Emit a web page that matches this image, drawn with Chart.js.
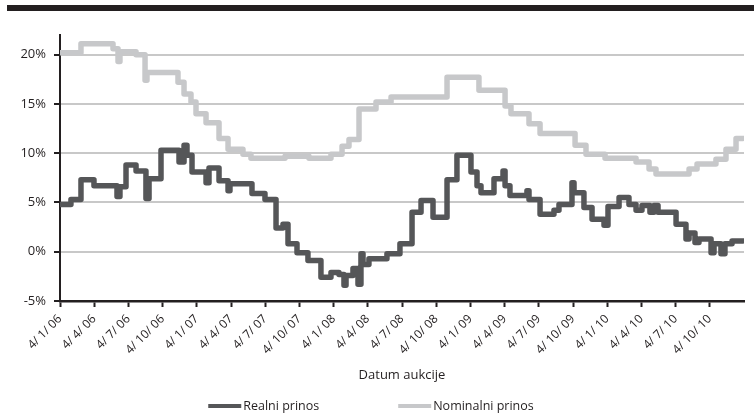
<!DOCTYPE html>
<html>
<head>
<meta charset="utf-8">
<script src="https://cdn.jsdelivr.net/npm/chart.js@4.4.0/dist/chart.umd.min.js"></script>
<style>
  html, body { margin: 0; padding: 0; background: #ffffff; }
  #wrap { width: 754px; height: 414px; position: relative; }
</style>
</head>
<body>
<div id="wrap"><canvas id="c" width="754" height="414"></canvas></div>
<script>
// Quarterly date labels on the auction-date axis
const tickLabels = ['4/ 1/ 06','4/ 4/ 06','4/ 7/ 06','4/ 10/ 06','4/ 1/ 07','4/ 4/ 07','4/ 7/ 07','4/ 10/ 07',
  '4/ 1/ 08','4/ 4/ 08','4/ 7/ 08','4/ 10/ 08','4/ 1/ 09','4/ 4/ 09','4/ 7/ 09','4/ 10/ 09',
  '4/ 1/ 10','4/ 4/ 10','4/ 7/ 10','4/ 10/ 10'];

// Auction dates (months after 4/1/06) at which the real yield changed, and the yield (%)
const realMonths = [0, 0.96, 1.84, 2.98, 5.0, 5.26, 5.79, 6.67, 7.54, 7.81, 8.86, 10.44, 10.88, 11.14,
  11.58, 12.81, 13.07, 13.95, 14.74, 14.91, 16.84, 17.98, 18.95, 19.56, 20.0, 20.79, 21.75, 22.89,
  23.77, 24.47, 24.91, 25.09, 25.7, 26.14, 26.4, 26.58, 27.1, 28.68, 29.82, 30.88, 31.67, 32.72,
  33.95, 34.82, 36.05, 36.58, 36.93, 38.07, 38.86, 39.04, 39.47, 40.96, 41.14, 42.11, 43.33, 43.77,
  44.91, 45.09, 45.96, 46.67, 47.72, 48.07, 49.04, 49.91, 50.53, 51.05, 51.75, 52.1, 52.46, 54.04,
  54.91, 55.18, 55.7, 56.05, 57.11, 57.37, 57.98, 58.33, 58.95, 59.91];
const realYield = [4.8, 5.3, 7.3, 6.7, 5.6, 6.6, 8.8, 8.2, 5.4, 7.4, 10.3, 9.1, 10.8, 9.8,
  8.1, 7.0, 8.5, 7.2, 6.2, 6.9, 5.9, 5.3, 2.4, 2.8, 0.8, -0.1, -0.9, -2.6,
  -2.1, -2.3, -3.4, -2.4, -1.7, -3.3, -0.2, -1.3, -0.7, -0.2, 0.8, 4.0, 5.2, 3.5,
  7.3, 9.8, 8.1, 6.7, 6.0, 7.4, 8.2, 6.7, 5.7, 6.2, 5.3, 3.8, 4.2, 4.8,
  7.0, 6.0, 4.5, 3.3, 2.7, 4.6, 5.5, 4.8, 4.2, 4.7, 4.0, 4.7, 4.0, 2.8,
  1.3, 1.9, 0.95, 1.3, -0.1, 0.8, -0.2, 0.8, 1.1, 1.1];

// Auction dates at which the nominal yield changed, and the yield (%)
const nominalMonths = [0, 1.84, 4.65, 5.09, 5.26, 6.67, 7.46, 7.63, 10.35, 10.88, 11.49, 11.93,
  12.81, 13.95, 14.74, 16.05, 16.75, 19.74, 21.84, 23.77, 24.74, 25.35, 26.23, 27.72, 29.04,
  33.95, 36.75, 39.04, 39.56, 41.14, 42.11, 45.18, 46.14, 47.81, 50.53, 51.67, 52.28, 55.18,
  55.88, 57.54, 58.42, 59.3, 59.91];
const nominalYield = [20.2, 21.1, 20.6, 19.3, 20.3, 20.0, 17.4, 18.2, 17.2, 16.0, 15.2, 14.0,
  13.1, 11.5, 10.4, 9.9, 9.5, 9.7, 9.5, 9.9, 10.7, 11.4, 14.5, 15.2, 15.7,
  17.7, 16.4, 14.8, 14.0, 13.0, 12.0, 10.8, 9.9, 9.5, 9.1, 8.4, 7.9, 8.4,
  8.9, 9.4, 10.4, 11.5, 11.5];

const yTickValues = [-5, 0, 5, 10, 15, 20];

const FONT = '"Open Sans", "DejaVu Sans", sans-serif';
const INK = '#231f20';
const DARK = '#555658';
const LIGHT = '#c7c8ca';

function toPoints(xs, ys) {
  return xs.map((x, i) => ({ x: x, y: ys[i] }));
}

// Black rule across the top of the figure
const topRule = {
  id: 'topRule',
  beforeDraw(chart) {
    const ctx = chart.ctx;
    ctx.save();
    ctx.fillStyle = '#ffffff';
    ctx.fillRect(0, 0, chart.width, chart.height);
    ctx.fillStyle = INK;
    ctx.fillRect(7, 5, chart.width - 7, 6);
    ctx.restore();
  }
};

// Legend: a short line sample followed by the series name
const lineLegend = {
  id: 'lineLegend',
  afterDraw(chart) {
    const ctx = chart.ctx;
    const sampleW = 33, textGap = 2, itemGap = 79, y = 406;
    ctx.save();
    ctx.font = '12.5px ' + FONT;
    const items = chart.data.datasets.map(ds => ({
      label: ds.label, color: ds.borderColor,
      w: sampleW + textGap + ctx.measureText(ds.label).width
    }));
    const total = items.reduce((s, it) => s + it.w, 0) + itemGap * (items.length - 1);
    let x = chart.width / 2 - 6 - total / 2;
    items.forEach(it => {
      ctx.strokeStyle = it.color;
      ctx.lineWidth = 4;
      ctx.lineCap = 'butt';
      ctx.beginPath();
      ctx.moveTo(x, y);
      ctx.lineTo(x + sampleW, y);
      ctx.stroke();
      ctx.fillStyle = INK;
      ctx.textBaseline = 'middle';
      ctx.textAlign = 'left';
      ctx.fillText(it.label, x + sampleW + textGap, y);
      x += it.w + itemGap;
    });
    ctx.restore();
  }
};

new Chart(document.getElementById('c'), {
  type: 'line',
  data: {
    datasets: [
      {
        label: 'Realni prinos',
        data: toPoints(realMonths, realYield),
        borderColor: DARK,
        backgroundColor: DARK,
        borderWidth: 5.5,
        stepped: true,
        pointRadius: 0,
        borderJoinStyle: 'round',
        borderCapStyle: 'round',
        fill: false
      },
      {
        label: 'Nominalni prinos',
        data: toPoints(nominalMonths, nominalYield),
        borderColor: LIGHT,
        backgroundColor: LIGHT,
        borderWidth: 5.5,
        stepped: true,
        pointRadius: 0,
        borderJoinStyle: 'round',
        borderCapStyle: 'round',
        fill: false
      }
    ]
  },
  options: {
    responsive: false,
    animation: false,
    devicePixelRatio: 1,
    layout: { padding: { left: 0, right: 10, top: 35, bottom: 0 } },
    plugins: {
      legend: { display: false },
      tooltip: { enabled: false }
    },
    scales: {
      x: {
        type: 'linear',
        min: 0,
        max: 60,
        afterBuildTicks(scale) {
          scale.ticks = tickLabels.map((_, i) => ({ value: i * 3 }));
        },
        afterFit(scale) { scale.height = 113; },
        border: { display: true, color: INK, width: 2.5 },
        grid: {
          drawOnChartArea: false,
          drawTicks: true,
          tickLength: 6,
          tickColor: INK,
          tickWidth: 2
        },
        ticks: {
          autoSkip: false,
          maxRotation: 45,
          minRotation: 45,
          padding: 5,
          color: INK,
          font: { family: FONT, size: 12 },
          callback(value) {
            const i = Math.round(value / 3);
            return tickLabels[i];
          }
        },
        title: {
          display: true,
          text: 'Datum aukcije',
          color: INK,
          font: { family: FONT, size: 13 },
          padding: { top: 0, bottom: 31 }
        }
      },
      y: {
        min: -5,
        max: 22,
        afterBuildTicks(scale) {
          scale.ticks = yTickValues.map(v => ({ value: v }));
        },
        afterFit(scale) { scale.width = 60; },
        border: { display: true, color: INK, width: 2 },
        grid: {
          color: '#c8c8c8',
          lineWidth: 2,
          drawTicks: true,
          tickLength: 6,
          tickColor: INK,
          tickWidth: 2
        },
        ticks: {
          padding: 8,
          color: INK,
          font: { family: FONT, size: 13 },
          callback(value) { return value + '%'; }
        }
      }
    }
  },
  plugins: [topRule, lineLegend]
});
</script>
</body>
</html>
